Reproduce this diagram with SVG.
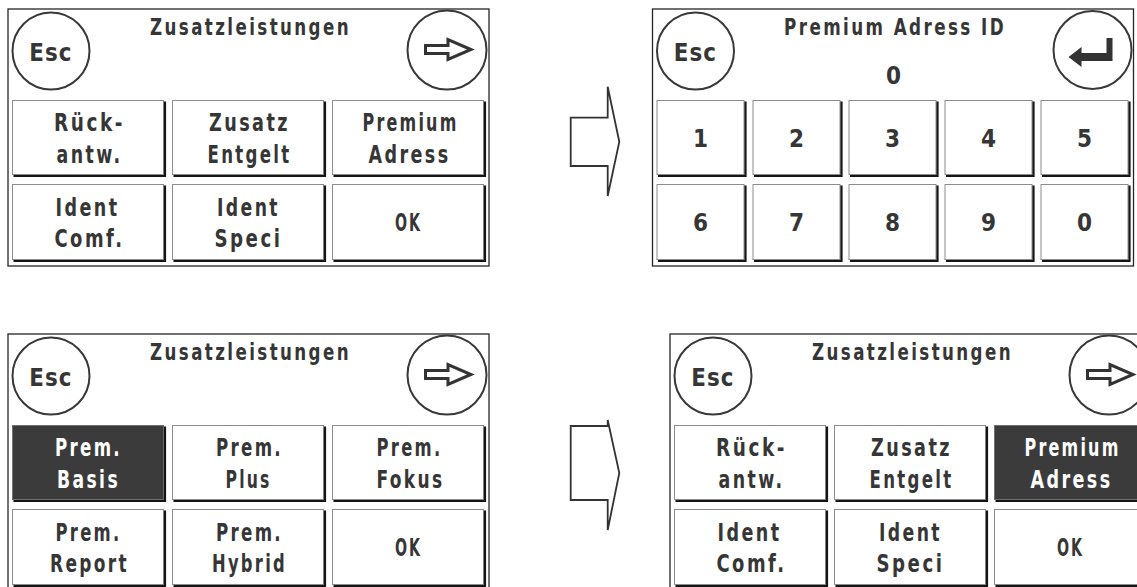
<svg xmlns="http://www.w3.org/2000/svg" xmlns:xlink="http://www.w3.org/1999/xlink" width="1137" height="587" viewBox="0 0 1137 587">
<style>
.fr{fill:#fff;stroke:#262626;stroke-width:1.3}
.bf{fill:#fff;stroke:#8c8c8c;stroke-width:1}
.bs{fill:#3b3b3b;stroke:#707070;stroke-width:1}
.sh{fill:none;stroke:#151515;stroke-width:2.2}
.ci{fill:#fff;stroke:#383838;stroke-width:2}
.t{font-family:"Liberation Sans Narrow","DejaVu Sans Condensed","Liberation Sans",sans-serif;font-weight:bold;font-size:24px;fill:#363636;text-anchor:middle;letter-spacing:3px}
.d{letter-spacing:0}
.ti{font-size:23px}
.es{font-size:25px;letter-spacing:1px}
.wt{fill:#fff}
.ar{fill:#fff;stroke:#333;stroke-width:1.8;stroke-linejoin:miter}
.ga{fill:#fff;stroke:#333;stroke-width:3;stroke-linejoin:miter}
.gr{fill:#333}
</style>
<defs>
<rect id="frame" class="fr" x="0" y="0" width="481" height="257"/>
<g id="w1"><rect class="bf" x="0.5" y="0.5" width="151" height="74"/><path class="sh" d="M153 1.5V76H1.5"/></g>
<g id="w2"><rect class="bf" x="0.5" y="0.5" width="151" height="75"/><path class="sh" d="M153 1.5V77H1.5"/></g>
<g id="s1"><rect class="bs" x="0.5" y="0.5" width="151" height="74"/><path class="sh" d="M153 1.5V76H1.5"/></g>
<g id="k1"><rect class="bf" x="0.5" y="0.5" width="87" height="74"/><path class="sh" d="M89 1.5V76H1.5"/></g>
<g id="k2"><rect class="bf" x="0.5" y="0.5" width="87" height="75"/><path class="sh" d="M89 1.5V77H1.5"/></g>
<g id="escbtn"><circle class="ci" cx="43" cy="42" r="38.5"/><text class="t es" x="42.8" y="52" textLength="43" lengthAdjust="spacingAndGlyphs">Esc</text></g>
<g id="fwdbtn"><circle class="ci" cx="439" cy="41" r="39.5"/><polygon class="ga" points="417.5,36.5 440,36.5 440,30.5 463,40.5 440,50.5 440,44.5 417.5,44.5"/></g>
</defs>
<rect x="0" y="0" width="1137" height="587" fill="#fff"/>

<g id="screen-zusatz" transform="translate(8,9)">
<use xlink:href="#frame" href="#frame"/>
<use xlink:href="#escbtn" href="#escbtn"/>
<use xlink:href="#fwdbtn" href="#fwdbtn"/>
<text class="t ti" x="242.5" y="26" textLength="201" lengthAdjust="spacingAndGlyphs">Zusatzleistungen</text>
<g id="z1-rueck"><use xlink:href="#w1" href="#w1" x="4" y="91"/><text class="t" x="81.5" y="122" textLength="71" lengthAdjust="spacingAndGlyphs">Rück-</text><text class="t" x="81.5" y="154" textLength="66" lengthAdjust="spacingAndGlyphs">antw.</text></g>
<g id="z1-zusatz"><use xlink:href="#w1" href="#w1" x="164" y="91"/><text class="t" x="241.5" y="122" textLength="81" lengthAdjust="spacingAndGlyphs">Zusatz</text><text class="t" x="241.5" y="154" textLength="84" lengthAdjust="spacingAndGlyphs">Entgelt</text></g>
<g id="z1-premium"><use xlink:href="#w1" href="#w1" x="324" y="91"/><text class="t" x="402.5" y="122" textLength="96" lengthAdjust="spacingAndGlyphs">Premium</text><text class="t" x="401.5" y="154" textLength="82" lengthAdjust="spacingAndGlyphs">Adress</text></g>
<g id="z1-identc"><use xlink:href="#w2" href="#w2" x="4" y="175"/><text class="t" x="79.5" y="207" textLength="64" lengthAdjust="spacingAndGlyphs">Ident</text><text class="t" x="81.5" y="238" textLength="70" lengthAdjust="spacingAndGlyphs">Comf.</text></g>
<g id="z1-idents"><use xlink:href="#w2" href="#w2" x="164" y="175"/><text class="t" x="240.5" y="207" textLength="63" lengthAdjust="spacingAndGlyphs">Ident</text><text class="t" x="240.5" y="238" textLength="68" lengthAdjust="spacingAndGlyphs">Speci</text></g>
<g id="z1-ok"><use xlink:href="#w2" href="#w2" x="324" y="175"/><text class="t" x="400.5" y="222" textLength="27" lengthAdjust="spacingAndGlyphs">OK</text></g>
</g>

<g id="screen-premium-id" transform="translate(652.5,9)">
<use xlink:href="#frame" href="#frame"/>
<use xlink:href="#escbtn" href="#escbtn"/>
<g id="enterbtn"><circle class="ci" cx="440" cy="41" r="39"/><polygon class="gr" points="416,48 429,38 429,44 454,44 454,29 460,29 460,52 429,52 429,58"/></g>
<text class="t ti" x="242.5" y="26" textLength="222" lengthAdjust="spacingAndGlyphs">Premium Adress ID</text>
<text class="t d" x="241" y="75">0</text>
<g id="key1"><use xlink:href="#k1" href="#k1" x="4" y="91"/><text class="t d" x="48" y="138">1</text></g>
<g id="key2"><use xlink:href="#k1" href="#k1" x="100" y="91"/><text class="t d" x="144" y="138">2</text></g>
<g id="key3"><use xlink:href="#k1" href="#k1" x="196" y="91"/><text class="t d" x="240" y="138">3</text></g>
<g id="key4"><use xlink:href="#k1" href="#k1" x="292" y="91"/><text class="t d" x="336" y="138">4</text></g>
<g id="key5"><use xlink:href="#k1" href="#k1" x="388" y="91"/><text class="t d" x="432" y="138">5</text></g>
<g id="key6"><use xlink:href="#k2" href="#k2" x="4" y="175"/><text class="t d" x="48" y="222">6</text></g>
<g id="key7"><use xlink:href="#k2" href="#k2" x="100" y="175"/><text class="t d" x="144" y="222">7</text></g>
<g id="key8"><use xlink:href="#k2" href="#k2" x="196" y="175"/><text class="t d" x="240" y="222">8</text></g>
<g id="key9"><use xlink:href="#k2" href="#k2" x="292" y="175"/><text class="t d" x="336" y="222">9</text></g>
<g id="key0"><use xlink:href="#k2" href="#k2" x="388" y="175"/><text class="t d" x="432" y="222">0</text></g>
</g>

<g id="screen-prem-options" transform="translate(8,334)">
<use xlink:href="#frame" href="#frame"/>
<use xlink:href="#escbtn" href="#escbtn"/>
<use xlink:href="#fwdbtn" href="#fwdbtn"/>
<text class="t ti" x="242.5" y="26" textLength="201" lengthAdjust="spacingAndGlyphs">Zusatzleistungen</text>
<g id="p-basis"><use xlink:href="#s1" href="#s1" x="4" y="91"/><text class="t wt" x="80.5" y="122" textLength="67" lengthAdjust="spacingAndGlyphs">Prem.</text><text class="t wt" x="80.5" y="154" textLength="63" lengthAdjust="spacingAndGlyphs">Basis</text></g>
<g id="p-plus"><use xlink:href="#w1" href="#w1" x="164" y="91"/><text class="t" x="241.5" y="122" textLength="67" lengthAdjust="spacingAndGlyphs">Prem.</text><text class="t" x="240.5" y="154" textLength="46" lengthAdjust="spacingAndGlyphs">Plus</text></g>
<g id="p-fokus"><use xlink:href="#w1" href="#w1" x="324" y="91"/><text class="t" x="401.5" y="122" textLength="66" lengthAdjust="spacingAndGlyphs">Prem.</text><text class="t" x="402.5" y="154" textLength="68" lengthAdjust="spacingAndGlyphs">Fokus</text></g>
<g id="p-report"><use xlink:href="#w2" href="#w2" x="4" y="175"/><text class="t" x="80.5" y="207" textLength="66" lengthAdjust="spacingAndGlyphs">Prem.</text><text class="t" x="81.5" y="238" textLength="79" lengthAdjust="spacingAndGlyphs">Report</text></g>
<g id="p-hybrid"><use xlink:href="#w2" href="#w2" x="164" y="175"/><text class="t" x="241.5" y="207" textLength="67" lengthAdjust="spacingAndGlyphs">Prem.</text><text class="t" x="241.5" y="238" textLength="75" lengthAdjust="spacingAndGlyphs">Hybrid</text></g>
<g id="p-ok"><use xlink:href="#w2" href="#w2" x="324" y="175"/><text class="t" x="400.5" y="222" textLength="27" lengthAdjust="spacingAndGlyphs">OK</text></g>
</g>

<g id="screen-zusatz-selected" transform="translate(670,334)">
<use xlink:href="#frame" href="#frame"/>
<use xlink:href="#escbtn" href="#escbtn"/>
<use xlink:href="#fwdbtn" href="#fwdbtn"/>
<text class="t ti" x="242.5" y="26" textLength="201" lengthAdjust="spacingAndGlyphs">Zusatzleistungen</text>
<g id="z2-rueck"><use xlink:href="#w1" href="#w1" x="4" y="91"/><text class="t" x="81.5" y="122" textLength="71" lengthAdjust="spacingAndGlyphs">Rück-</text><text class="t" x="81.5" y="154" textLength="66" lengthAdjust="spacingAndGlyphs">antw.</text></g>
<g id="z2-zusatz"><use xlink:href="#w1" href="#w1" x="164" y="91"/><text class="t" x="241.5" y="122" textLength="81" lengthAdjust="spacingAndGlyphs">Zusatz</text><text class="t" x="241.5" y="154" textLength="84" lengthAdjust="spacingAndGlyphs">Entgelt</text></g>
<g id="z2-premium"><use xlink:href="#s1" href="#s1" x="324" y="91"/><text class="t wt" x="402.5" y="122" textLength="96" lengthAdjust="spacingAndGlyphs">Premium</text><text class="t wt" x="401.5" y="154" textLength="82" lengthAdjust="spacingAndGlyphs">Adress</text></g>
<g id="z2-identc"><use xlink:href="#w2" href="#w2" x="4" y="175"/><text class="t" x="79.5" y="207" textLength="64" lengthAdjust="spacingAndGlyphs">Ident</text><text class="t" x="81.5" y="238" textLength="70" lengthAdjust="spacingAndGlyphs">Comf.</text></g>
<g id="z2-idents"><use xlink:href="#w2" href="#w2" x="164" y="175"/><text class="t" x="240.5" y="207" textLength="63" lengthAdjust="spacingAndGlyphs">Ident</text><text class="t" x="240.5" y="238" textLength="68" lengthAdjust="spacingAndGlyphs">Speci</text></g>
<g id="z2-ok"><use xlink:href="#w2" href="#w2" x="324" y="175"/><text class="t" x="400.5" y="222" textLength="27" lengthAdjust="spacingAndGlyphs">OK</text></g>
</g>

<g id="connectors">
<polygon id="arrow-top" class="ar" points="570.7,117.7 607.7,117.7 607.7,86.7 619.3,141.7 607.7,196 607.7,166 570.7,166"/>
<polygon id="arrow-bottom" class="ar" points="570.7,426 607.7,426 607.7,420 619.3,473 607.7,530 607.7,500 570.7,500"/>
</g>
</svg>
